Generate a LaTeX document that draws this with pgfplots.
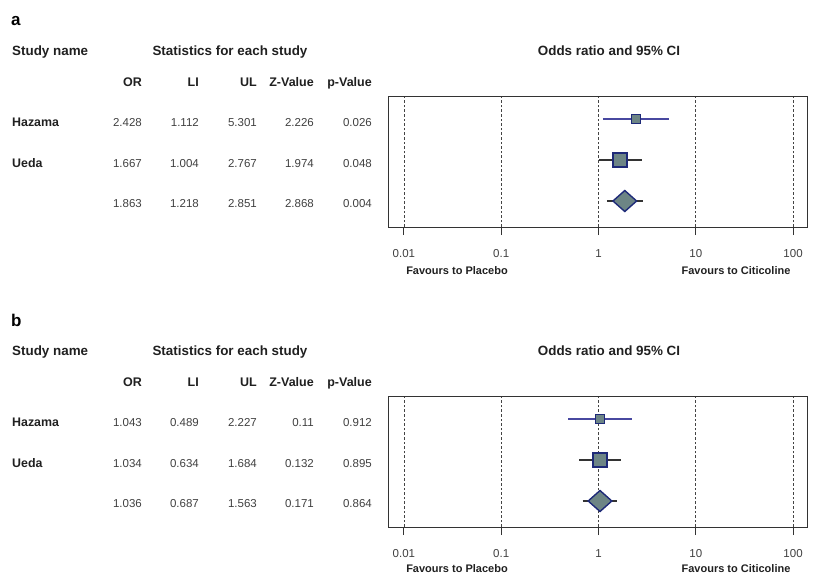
\documentclass[border=0pt]{standalone}
\usepackage{pgfplots}
\pgfplotsset{compat=1.18}
\usepackage{fontspec}
\setmainfont{Liberation Sans}
\definecolor{lnb}{HTML}{4848A0}
\definecolor{dk}{HTML}{333333}
\definecolor{gridc}{HTML}{444444}
\definecolor{edge}{HTML}{1E2A78}
\definecolor{fillc}{HTML}{6D8585}
\definecolor{txt}{HTML}{404040}
\definecolor{hd}{HTML}{202020}
\pgfplotsset{every axis/.append style={
  width=419pt, height=131pt, scale only axis,
  xmin=0.00686, xmax=139, ymin=0.366, ymax=3.56,
  ytick=\empty, xtick={0.01,0.1,1,10,100},
  xticklabels={{0.01},{0.1},{1},{10},{100}},
  xtick pos=bottom, tick align=outside, major tick length=8pt,
  xminorticks=false,
  xmajorgrids, grid style={dash pattern=on 2.6pt off 2pt, color=gridc, line width=0.8pt},
  axis line style={color=dk, line width=1pt},
  tick style={color=dk, line width=1pt},
  xticklabel style={font=\fontsize{11.5}{12}\selectfont, text=txt, yshift=-11pt},
  /pgf/number format/assume math mode=true,
  clip=false}}
\tikzset{t/.style={inner sep=0pt, anchor=base}, tw/.style={inner sep=0pt, anchor=base west}, te/.style={inner sep=0pt, anchor=base east}}
\newcommand{\hdr}{\fontsize{13.4}{14}\selectfont\bfseries}
\newcommand{\colh}{\fontsize{12.5}{13}\selectfont\bfseries}
\newcommand{\stn}{\fontsize{12.4}{13}\selectfont\bfseries}
\newcommand{\num}{\fontsize{11.5}{12}\selectfont}
\newcommand{\fav}{\fontsize{11}{12}\selectfont\bfseries}
\begin{document}
\begin{tikzpicture}
\path[use as bounding box] (0pt,0pt) rectangle (814pt,-574pt);
% ---------------- panel a ----------------
\begin{scope}
\node[tw, font=\fontsize{17}{18}\selectfont\bfseries, text=black] at (11pt,-25pt) {a};
\node[tw, font=\hdr, text=hd] at (12pt,-55pt) {Study name};
\node[t, font=\hdr, text=hd] at (230pt,-55pt) {Statistics for each study};
\node[t, font=\hdr, text=hd] at (609pt,-55pt) {Odds ratio and 95\% CI};
\foreach \xx/\tt in {142/OR,199/LI,257/UL,314/Z-Value,372/p-Value}
  \node[te, font=\colh, text=hd] at (\xx pt,-86pt) {\tt};
\node[tw, font=\stn, text=hd] at (12pt,-126pt) {Hazama};
\node[tw, font=\stn, text=hd] at (12pt,-167pt) {Ueda};
\foreach \xx/\tt in {142/2.428,199/1.112,257/5.301,314/2.226,372/0.026}
  \node[te, font=\num, text=txt] at (\xx pt,-126pt) {\tt};
\foreach \xx/\tt in {142/1.667,199/1.004,257/2.767,314/1.974,372/0.048}
  \node[te, font=\num, text=txt] at (\xx pt,-167pt) {\tt};
\foreach \xx/\tt in {142/1.863,199/1.218,257/2.851,314/2.868,372/0.004}
  \node[te, font=\num, text=txt] at (\xx pt,-207pt) {\tt};
\node[t, font=\fav, text=hd] at (457pt,-274pt) {Favours to Placebo};
\node[t, font=\fav, text=hd] at (736pt,-274pt) {Favours to Citicoline};
\end{scope}
\begin{semilogxaxis}[at={(388pt,-227pt)}, anchor=south west]
\addplot[lnb, line width=1.3pt, no marks] coordinates {(1.112,3) (5.301,3)};
\addplot[dk, line width=1.6pt, no marks] coordinates {(1.004,2) (2.767,2)};
\addplot[dk, line width=1.6pt, no marks] coordinates {(1.218,1) (2.851,1)};
\addplot[only marks, mark=square*, mark size=4.5pt, mark options={fill=fillc, draw=edge, line width=1.3pt}] coordinates {(2.428,3)};
\addplot[only marks, mark=square*, mark size=7pt, mark options={fill=fillc, draw=edge, line width=1.4pt}] coordinates {(1.667,2)};
\addplot[only marks, mark=diamond*, mark size=10.5pt, mark options={xscale=1.5, fill=fillc, draw=edge, line width=1.4pt}] coordinates {(1.863,1)};
\end{semilogxaxis}
% ---------------- panel b ----------------
\begin{scope}[yshift=-300pt]
\node[tw, font=\fontsize{17}{18}\selectfont\bfseries, text=black] at (11pt,-26pt) {b};
\node[tw, font=\hdr, text=hd] at (12pt,-55pt) {Study name};
\node[t, font=\hdr, text=hd] at (230pt,-55pt) {Statistics for each study};
\node[t, font=\hdr, text=hd] at (609pt,-55pt) {Odds ratio and 95\% CI};
\foreach \xx/\tt in {142/OR,199/LI,257/UL,314/Z-Value,372/p-Value}
  \node[te, font=\colh, text=hd] at (\xx pt,-86pt) {\tt};
\node[tw, font=\stn, text=hd] at (12pt,-126pt) {Hazama};
\node[tw, font=\stn, text=hd] at (12pt,-167pt) {Ueda};
\foreach \xx/\tt in {142/1.043,199/0.489,257/2.227,314/0.11,372/0.912}
  \node[te, font=\num, text=txt] at (\xx pt,-126pt) {\tt};
\foreach \xx/\tt in {142/1.034,199/0.634,257/1.684,314/0.132,372/0.895}
  \node[te, font=\num, text=txt] at (\xx pt,-167pt) {\tt};
\foreach \xx/\tt in {142/1.036,199/0.687,257/1.563,314/0.171,372/0.864}
  \node[te, font=\num, text=txt] at (\xx pt,-207pt) {\tt};
\node[t, font=\fav, text=hd] at (457pt,-272pt) {Favours to Placebo};
\node[t, font=\fav, text=hd] at (736pt,-272pt) {Favours to Citicoline};
\end{scope}
\begin{semilogxaxis}[at={(388pt,-527pt)}, anchor=south west]
\addplot[lnb, line width=1.3pt, no marks] coordinates {(0.489,3) (2.227,3)};
\addplot[dk, line width=1.6pt, no marks] coordinates {(0.634,2) (1.684,2)};
\addplot[dk, line width=1.6pt, no marks] coordinates {(0.687,1) (1.563,1)};
\addplot[only marks, mark=square*, mark size=4.5pt, mark options={fill=fillc, draw=edge, line width=1.3pt}] coordinates {(1.043,3)};
\addplot[only marks, mark=square*, mark size=7pt, mark options={fill=fillc, draw=edge, line width=1.4pt}] coordinates {(1.034,2)};
\addplot[only marks, mark=diamond*, mark size=10.5pt, mark options={xscale=1.5, fill=fillc, draw=edge, line width=1.4pt}] coordinates {(1.036,1)};
\end{semilogxaxis}
\end{tikzpicture}
\end{document}
